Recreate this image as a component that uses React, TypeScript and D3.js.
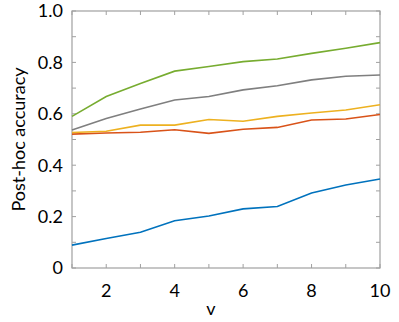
import React, { useEffect, useRef } from "react";
import * as d3 from "d3";

const vValues = [1, 2, 3, 4, 5, 6, 7, 8, 9, 10];
const blue = [0.089, 0.115, 0.139, 0.184, 0.202, 0.23, 0.239, 0.292, 0.323, 0.346];
const red = [0.521, 0.525, 0.528, 0.538, 0.524, 0.54, 0.547, 0.576, 0.58, 0.597];
const yellow = [0.527, 0.532, 0.556, 0.556, 0.578, 0.571, 0.59, 0.603, 0.615, 0.635];
const gray = [0.537, 0.582, 0.619, 0.654, 0.667, 0.693, 0.709, 0.732, 0.746, 0.751];
const green = [0.59, 0.667, 0.718, 0.766, 0.784, 0.803, 0.813, 0.835, 0.855, 0.877];
const yTicks = [0, 0.2, 0.4, 0.6, 0.8, 1.0];
const xTicks = [2, 4, 6, 8, 10];

const series = [
  { name: "blue", color: "#0072BD", values: blue },
  { name: "red", color: "#D95319", values: red },
  { name: "yellow", color: "#EDB120", values: yellow },
  { name: "gray", color: "#7F7F7F", values: gray },
  { name: "green", color: "#77AC30", values: green },
];

const App = () => {
  const svgRef = useRef<SVGSVGElement>(null);

  useEffect(() => {
    const margin = { top: 11, right: 19, bottom: 54, left: 72 };
    const W = 399, H = 322;
    const width = W - margin.left - margin.right;
    const height = H - margin.top - margin.bottom;

    const svg = d3.select(svgRef.current);
    svg.selectAll("*").remove();
    const g = svg.append("g").attr("transform", `translate(${margin.left},${margin.top})`);

    const x = d3.scaleLinear().domain([1, 10]).range([0, width]);
    const y = d3.scaleLinear().domain([0, 1]).range([height, 0]);

    const axisColor = "#a0a0a0";
    const font = "Lato, 'Open Sans', sans-serif";

    // minor/major ticks pointing inward on all four sides
    const xt = d3.range(1, 11);
    const yt = d3.range(0, 11).map((d) => d / 10);
    const tl = 4;
    xt.forEach((v) => {
      g.append("line").attr("x1", x(v)).attr("x2", x(v)).attr("y1", height).attr("y2", height - tl).attr("stroke", axisColor);
      g.append("line").attr("x1", x(v)).attr("x2", x(v)).attr("y1", 0).attr("y2", tl).attr("stroke", axisColor);
    });
    yt.forEach((v) => {
      g.append("line").attr("x1", 0).attr("x2", tl).attr("y1", y(v)).attr("y2", y(v)).attr("stroke", axisColor);
      g.append("line").attr("x1", width).attr("x2", width - tl).attr("y1", y(v)).attr("y2", y(v)).attr("stroke", axisColor);
    });

    // box
    g.append("rect")
      .attr("x", 0).attr("y", 0).attr("width", width).attr("height", height)
      .attr("fill", "none").attr("stroke", axisColor).attr("stroke-width", 1.2);

    // lines
    const line = d3.line<number>()
      .x((_, i) => x(vValues[i]))
      .y((d) => y(d));
    series.forEach((s) => {
      g.append("path")
        .datum(s.values)
        .attr("d", line)
        .attr("fill", "none")
        .attr("stroke", s.color)
        .attr("stroke-width", 1.6);
    });

    // tick labels
    yTicks.forEach((v) => {
      g.append("text")
        .attr("x", -9)
        .attr("y", y(v))
        .attr("dy", "0.36em")
        .attr("text-anchor", "end")
        .style("font-family", font)
        .style("font-size", "18px")
        .text(v === 0 ? "0" : d3.format(".1f")(v));
    });
    xTicks.forEach((v) => {
      g.append("text")
        .attr("x", x(v))
        .attr("y", height + 29)
        .attr("text-anchor", "middle")
        .style("font-family", font)
        .style("font-size", "18px")
        .text(v);
    });

    // axis titles
    svg.append("text")
      .attr("x", 211)
      .attr("y", 315)
      .attr("text-anchor", "middle")
      .style("font-family", font)
      .style("font-size", "18px")
      .text("v");
    svg.append("text")
      .attr("transform", `translate(25,${margin.top + height / 2}) rotate(-90)`)
      .attr("text-anchor", "middle")
      .style("font-family", font)
      .style("font-size", "18px")
      .text("Post-hoc accuracy");
  }, []);

  return (
    <svg
      ref={svgRef}
      width={399}
      height={322}
      style={{ position: "absolute", left: 0, top: 0, background: "white" }}
    />
  );
};

export default App;
